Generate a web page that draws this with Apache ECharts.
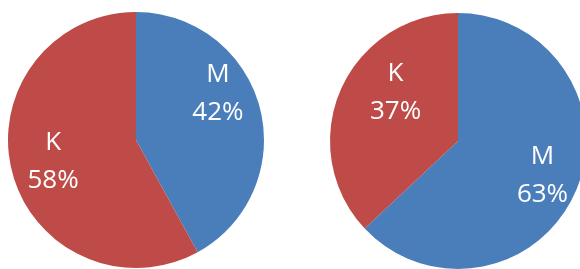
<!DOCTYPE html>
<html>
<head>
<meta charset="utf-8">
<script src="https://cdn.jsdelivr.net/npm/echarts@6/dist/echarts.min.js"></script>
<style>
html,body{margin:0;padding:0;background:#fff;}
#c{width:580px;height:269px;}
</style>
</head>
<body>
<div id="c"></div>
<script>
const categories = ['M', 'K'];
const leftValues = [42, 58];
const rightValues = [63, 37];
const colors = ['#4A7EBB', '#BE4B48'];

const chart = echarts.init(document.getElementById('c'), null, {renderer: 'canvas'});

function pieSeries(values, center, offsets) {
  return {
    type: 'pie',
    center: center,
    radius: 128,
    startAngle: 90,
    clockwise: true,
    animation: false,
    silent: true,
    avoidLabelOverlap: false,
    itemStyle: {borderWidth: 0},
    label: {
      show: true,
      position: 'inside',
      formatter: '{b}\n{d}%',
      color: '#ffffff',
      fontFamily: 'Open Sans',
      fontSize: 26,
      lineHeight: 38,
      align: 'center'
    },
    labelLine: {show: false},
    emphasis: {disabled: true},
    data: categories.map((c, i) => ({
      name: c,
      value: values[i],
      itemStyle: {color: colors[i]},
      label: {offset: offsets[i]}
    }))
  };
}

chart.setOption({
  backgroundColor: '#ffffff',
  series: [
    pieSeries(leftValues, [136, 140], [[17, -30], [-18, 5]]),
    pieSeries(rightValues, [458, 141], [[23, 8], [-1, -22]])
  ]
});
</script>
</body>
</html>
